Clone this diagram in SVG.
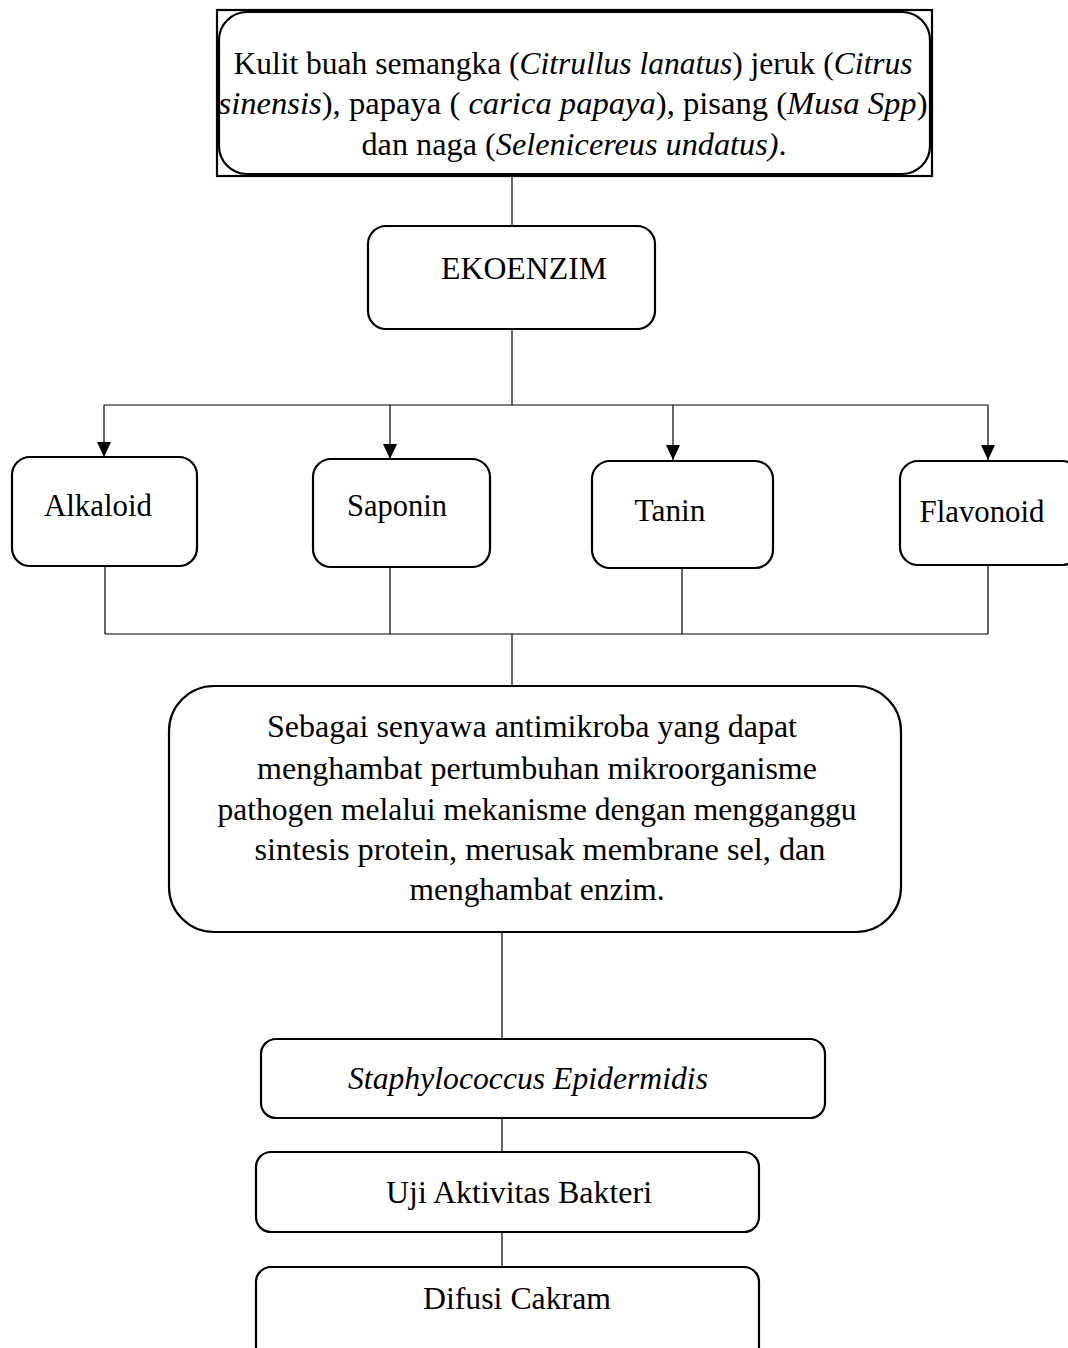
<svg xmlns="http://www.w3.org/2000/svg" width="1068" height="1348" viewBox="0 0 1068 1348">
<style>
.box{fill:#fff;stroke:#000;stroke-width:2.2}
.ln{fill:none;stroke:#000;stroke-width:1.2}
text{font-family:"Liberation Serif","Times New Roman",serif;font-size:32px;fill:#000;text-anchor:middle}
.i{font-style:italic}
</style>
<defs>
<marker id="arr" markerUnits="userSpaceOnUse" markerWidth="15" markerHeight="14" refX="15" refY="7" orient="auto" viewBox="0 0 15 14">
<path d="M0,0 L15,7 L0,14 Z" fill="#000"/>
</marker>
</defs>
<rect width="1068" height="1348" fill="#fff"/>
<g id="connectors">
<line class="ln" x1="512" y1="176" x2="512" y2="226"/>
<line class="ln" x1="512" y1="329" x2="512" y2="405"/>
<line class="ln" x1="104" y1="405" x2="988" y2="405"/>
<line class="ln" x1="104" y1="405" x2="104" y2="457" marker-end="url(#arr)"/>
<line class="ln" x1="390" y1="405" x2="390" y2="459" marker-end="url(#arr)"/>
<line class="ln" x1="673" y1="405" x2="673" y2="460" marker-end="url(#arr)"/>
<line class="ln" x1="988" y1="405" x2="988" y2="460" marker-end="url(#arr)"/>
<line class="ln" x1="105" y1="566" x2="105" y2="634"/>
<line class="ln" x1="390" y1="567" x2="390" y2="634"/>
<line class="ln" x1="682" y1="568" x2="682" y2="634"/>
<line class="ln" x1="988" y1="565" x2="988" y2="634"/>
<line class="ln" x1="105" y1="634" x2="988" y2="634"/>
<line class="ln" x1="512" y1="634" x2="512" y2="686"/>
<line class="ln" x1="502" y1="932" x2="502" y2="1039"/>
<line class="ln" x1="502" y1="1118" x2="502" y2="1152"/>
<line class="ln" x1="502" y1="1232" x2="502" y2="1267"/>
</g>
<g id="n-kulit">
<rect x="217" y="10" width="715" height="166" fill="#fff" stroke="#000" stroke-width="2.2"/>
<rect class="box" x="219" y="12" width="711" height="162" rx="28"/>
<text x="573" y="74" textLength="679" lengthAdjust="spacingAndGlyphs">Kulit buah semangka (<tspan class="i">Citrullus lanatus</tspan>) jeruk (<tspan class="i">Citrus</tspan></text>
<text x="573" y="114" textLength="709" lengthAdjust="spacingAndGlyphs"><tspan class="i">sinensis</tspan>), papaya ( <tspan class="i">carica papaya</tspan>), pisang (<tspan class="i">Musa Spp</tspan>)</text>
<text x="574" y="155" textLength="425" lengthAdjust="spacingAndGlyphs">dan naga (<tspan class="i">Selenicereus undatus)</tspan>.</text>
</g>
<g id="n-ekoenzim">
<rect class="box" x="368" y="226" width="287" height="103" rx="18"/>
<text x="524" y="279" textLength="166" lengthAdjust="spacingAndGlyphs">EKOENZIM</text>
</g>
<g id="n-alkaloid">
<rect class="box" x="12" y="457" width="185" height="109" rx="18"/>
<text x="98" y="516" textLength="108" lengthAdjust="spacingAndGlyphs">Alkaloid</text>
</g>
<g id="n-saponin">
<rect class="box" x="313" y="459" width="177" height="108" rx="18"/>
<text x="397" y="516" textLength="100" lengthAdjust="spacingAndGlyphs">Saponin</text>
</g>
<g id="n-tanin">
<rect class="box" x="592" y="461" width="181" height="107" rx="18"/>
<text x="670" y="521" textLength="71" lengthAdjust="spacingAndGlyphs">Tanin</text>
</g>
<g id="n-flavonoid">
<rect class="box" x="900" y="461" width="180" height="104" rx="18"/>
<text x="982" y="522" textLength="125" lengthAdjust="spacingAndGlyphs">Flavonoid</text>
</g>
<g id="n-antimikroba">
<rect class="box" x="169" y="686" width="732" height="246" rx="45"/>
<text x="532" y="737" textLength="530" lengthAdjust="spacingAndGlyphs">Sebagai senyawa antimikroba yang dapat</text>
<text x="537" y="779" textLength="560" lengthAdjust="spacingAndGlyphs">menghambat pertumbuhan mikroorganisme</text>
<text x="537" y="820" textLength="639" lengthAdjust="spacingAndGlyphs">pathogen melalui mekanisme dengan mengganggu</text>
<text x="540" y="860" textLength="571" lengthAdjust="spacingAndGlyphs">sintesis protein, merusak membrane sel,  dan</text>
<text x="537" y="900" textLength="255" lengthAdjust="spacingAndGlyphs">menghambat enzim.</text>
</g>
<g id="n-staph">
<rect class="box" x="261" y="1039" width="564" height="79" rx="15"/>
<text class="i" x="528" y="1089" textLength="360" lengthAdjust="spacingAndGlyphs">Staphylococcus Epidermidis</text>
</g>
<g id="n-uji">
<rect class="box" x="256" y="1152" width="503" height="80" rx="15"/>
<text x="519" y="1203" textLength="266" lengthAdjust="spacingAndGlyphs">Uji Aktivitas Bakteri</text>
</g>
<g id="n-difusi">
<rect class="box" x="256" y="1267" width="503" height="100" rx="15"/>
<text x="517" y="1309" textLength="188" lengthAdjust="spacingAndGlyphs">Difusi Cakram</text>
</g>
</svg>
